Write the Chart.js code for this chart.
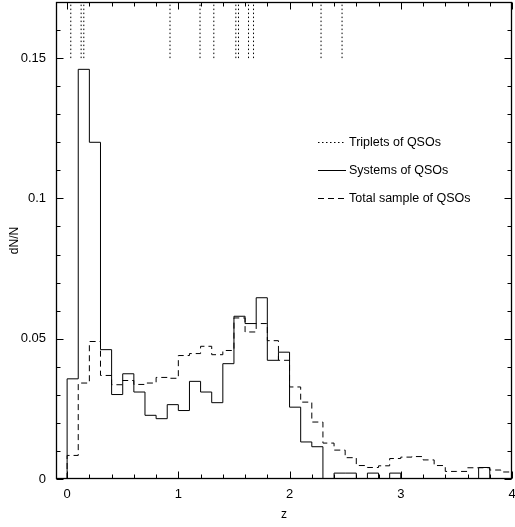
<!DOCTYPE html>
<html><head><meta charset="utf-8">
<script src="https://cdn.jsdelivr.net/npm/chart.js@4/dist/chart.umd.min.js"></script>
<style>html,body{margin:0;padding:0;background:#fff}canvas{display:block}</style>
</head><body>
<canvas id="c" width="515" height="527"></canvas>
<script>
// ---- data ----
const binEdges = [0.0,0.1,0.2,0.3,0.4,0.5,0.6,0.7,0.8,0.9,1.0,1.1,1.2,1.3,1.4,1.5,1.6,1.7,1.8,1.9,2.0,
                  2.1,2.2,2.3,2.4,2.5,2.6,2.7,2.8,2.9,3.0,3.1,3.2,3.3,3.4,3.5,3.6,3.7,3.8,3.9,4.0];
const systemsQSO = [0.0357,0.146,0.120,0.0461,0.0301,0.0375,0.0310,0.0227,0.0215,0.0265,
                    0.0244,0.0348,0.0310,0.0272,0.0411,0.0580,0.0554,0.0646,0.0423,0.0452,
                    0.0256,0.0132,0.0115,0,0.0021,0.0021,0,0.0021,0,0.0021,
                    0,0,0,0,0,0,0,0.0041,0,0];
const totalQSO = [0.0084,0.0342,0.0490,0.0369,0.0336,0.0351,0.0337,0.0342,0.0362,0.0359,
                  0.0440,0.0447,0.0473,0.0443,0.0458,0.0574,0.0524,0.0554,0.0493,0.0423,
                  0.0328,0.0274,0.0203,0.0128,0.0103,0.0076,0.0048,0.0041,0.0047,0.0073,
                  0.0078,0.0080,0.0068,0.0048,0.0027,0.0027,0.0040,0.0040,0.0032,0.0025];
const tripletZ = [0.033,0.126,0.150,0.925,1.195,1.319,1.517,1.541,1.631,1.676,2.283,2.472];
const tripletSpan = [0.15, 0.17];
const seriesNames = ['Triplets of QSOs','Systems of QSOs','Total sample of QSOs'];
const xTickLabels = [0,1,2,3,4];
const yTickLabels = [0,0.05,0.1,0.15];

// ---- build library data ----
function histPoints(edges, vals){
  const pts = [{x:edges[0], y:0}];
  vals.forEach((v,i)=>pts.push({x:edges[i], y:v}));
  pts.push({x:edges[edges.length-1], y:vals[vals.length-1]});
  return pts;
}
const tripletPts = [];
tripletZ.forEach(z=>{ tripletPts.push({x:z,y:tripletSpan[0]},{x:z,y:tripletSpan[1]},{x:z,y:null}); });

const FONT = '"Liberation Sans", Arial, Helvetica, sans-serif';
Chart.defaults.font.family = FONT;
Chart.defaults.color = '#000';

const frameTicks = {
  id:'frameTicks',
  afterDraw(chart){
    const {ctx, chartArea:a, scales:{x,y}} = chart;
    ctx.save();
    ctx.strokeStyle='#000'; ctx.lineWidth=1; ctx.setLineDash([]);
    const L=Math.round(a.left)+0.5, R=Math.round(a.right)-0.5, T=Math.round(a.top)+0.5, B=Math.round(a.bottom)-0.5;
    ctx.beginPath();
    for(let i=0;i<=20;i++){
      const v=i*0.2; const px=Math.round(x.getPixelForValue(v))+0.5;
      const len = (i%5===0)?7:4;
      ctx.moveTo(px,B); ctx.lineTo(px,B-len);
      ctx.moveTo(px,T); ctx.lineTo(px,T+len);
    }
    for(let i=0;i<=17;i++){
      const v=i*0.01; const py=Math.round(y.getPixelForValue(v))+0.5;
      const len = (i%5===0)?7:4;
      ctx.moveTo(L,py); ctx.lineTo(L+len,py);
      ctx.moveTo(R,py); ctx.lineTo(R-len,py);
    }
    ctx.stroke();
    ctx.lineWidth=1.3;
    ctx.strokeRect(L,T,R-L,B-T);
    ctx.restore();
  }
};

const legendBox = {
  id:'legendBox',
  afterDraw(chart){
    const {ctx, chartArea:a} = chart;
    const x0=a.left+262, x1=a.left+290, tx=a.left+293, y0=a.top+140, dy=28;
    chart.data.datasets.forEach((ds,i)=>{
      const yy = Math.round(y0+i*dy)+0.5;
      ctx.save();
      ctx.strokeStyle=ds.borderColor; ctx.lineWidth=ds.borderWidth;
      ctx.setLineDash(ds.borderDash||[]);
      ctx.beginPath(); ctx.moveTo(x0,yy); ctx.lineTo(x1,yy); ctx.stroke();
      ctx.setLineDash([]);
      ctx.fillStyle='#000'; ctx.font='12.5px '+FONT; ctx.textBaseline='middle'; ctx.textAlign='left';
      ctx.fillText(ds.label, tx, yy);
      ctx.restore();
    });
  }
};

new Chart(document.getElementById('c'), {
  type:'line',
  data:{ datasets:[
    {label:seriesNames[0], data:tripletPts, borderColor:'#000', borderWidth:1, borderDash:[1.5,2.5], pointRadius:0, spanGaps:false, tension:0},
    {label:seriesNames[1], data:histPoints(binEdges, systemsQSO), borderColor:'#000', borderWidth:1, pointRadius:0, stepped:'before', tension:0},
    {label:seriesNames[2], data:histPoints(binEdges, totalQSO), borderColor:'#000', borderWidth:1, borderDash:[6,4], pointRadius:0, stepped:'before', tension:0}
  ]},
  options:{
    responsive:false, animation:false, events:[],
    layout:{padding:{top:2,right:3,left:0,bottom:0}},
    plugins:{legend:{display:false}, tooltip:{enabled:false}},
    scales:{
      x:{type:'linear', min:-0.1, max:4,
         afterBuildTicks:s=>{ s.ticks = xTickLabels.map(v=>({value:v})); },
         ticks:{padding:8, font:{size:13}, color:'#000', maxRotation:0, autoSkip:false, callback:v=>String(v)},
         grid:{display:false, drawTicks:false}, border:{display:false},
         title:{display:true, text:'z', font:{size:12}, color:'#000', padding:{top:0,bottom:5}},
         afterFit:s=>{ s.height=48; s.paddingLeft=0; s.paddingRight=0; }},
      y:{type:'linear', min:0, max:0.17,
         afterBuildTicks:s=>{ s.ticks = yTickLabels.map(v=>({value:v})); },
         ticks:{padding:10, font:{size:13}, color:'#000', autoSkip:false, callback:v=>String(v)},
         grid:{display:false, drawTicks:false}, border:{display:false},
         title:{display:true, text:'dN/N', font:{size:12}, color:'#000', padding:{top:7,bottom:0}},
         afterFit:s=>{ s.width=56; s.paddingTop=0; s.paddingBottom=0; }}
    }
  },
  plugins:[frameTicks, legendBox]
});
</script>
</body></html>
